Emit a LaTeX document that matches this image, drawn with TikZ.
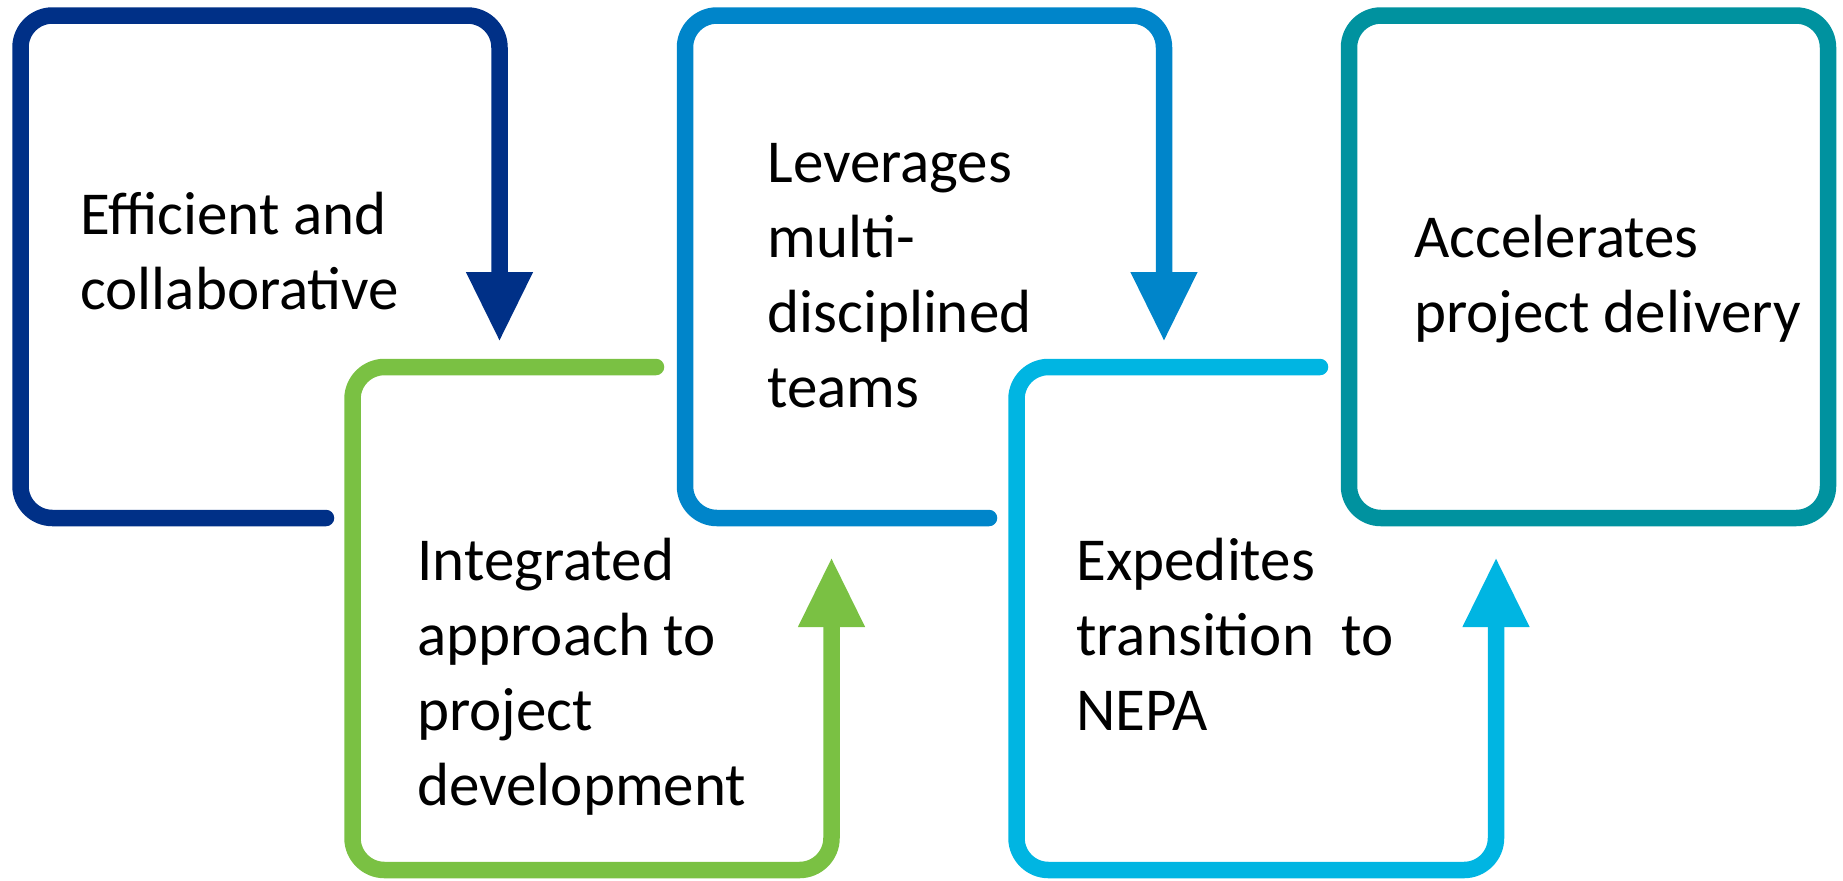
\documentclass[tikz,border=0pt]{standalone}
\usepackage{fontspec}
\setmainfont{Carlito}
\usepackage{tikz}
\usetikzlibrary{arrows.meta}
\usepackage{xcolor}
\definecolor{darkblue}{RGB}{0,48,135}
\definecolor{leafgreen}{RGB}{122,193,67}
\definecolor{midblue}{RGB}{0,133,202}
\definecolor{skyblue}{RGB}{0,181,226}
\definecolor{tealblue}{RGB}{0,146,159}

\tikzset{
  loop/.style = {line width=8.25pt, rounded corners=16pt, line cap=round, line join=round},
  tip/.style = {-{Triangle[width=31pt,length=35pt]}},
  txt/.style = {anchor=base west, align=left, inner sep=0pt,
    font=\fontsize{30.5pt}{37.5pt}\selectfont}
}

\begin{document}
\begin{tikzpicture}[x=0.5pt, y=-0.5pt]
\useasboundingbox (0,0) rectangle (1843,880);
% upper row
\draw[loop, tip, darkblue] (326,518) -- (20.5,518) -- (20.5,15.5) -- (499.5,15.5) -- (499.5,342);
\draw[loop, tip, midblue] (989,518) -- (685,518) -- (685,15.5) -- (1164,15.5) -- (1164,342);
\draw[loop, tealblue] (1349,15.5) rectangle (1828,518);
% lower row
\draw[loop, tip, leafgreen] (656,367) -- (352.5,367) -- (352.5,870) -- (831.5,870) -- (831.5,557);
\draw[loop, tip, skyblue] (1320,367) -- (1016.5,367) -- (1016.5,870) -- (1496,870) -- (1496,557);

% texts, placed at the baseline of their last line
\node[txt] (efficient) at (80,309) {Efficient and\\collaborative};
\node[txt] (integrated) at (417,805) {Integrated\\approach to\\project\\development};
\node[txt] (leverages) at (767,407) {Leverages\\multi-\\disciplined\\teams};
\node[txt] (expedites) at (1076,730) {Expedites\\transition\ \ to\\NEPA};
\node[txt] (accelerates) at (1414,332) {Accelerates\\project delivery};
\end{tikzpicture}
\end{document}
